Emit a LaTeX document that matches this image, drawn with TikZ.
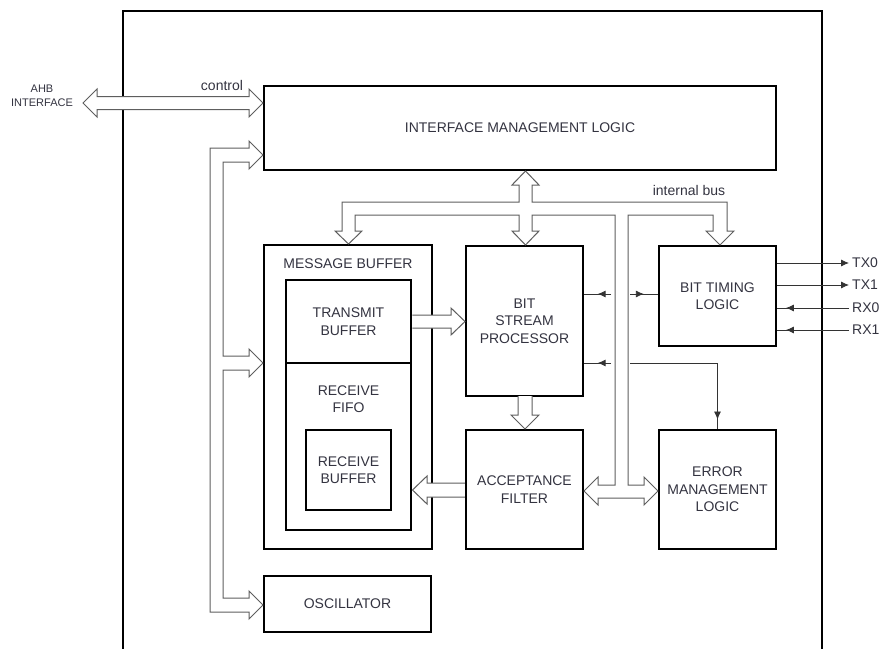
\documentclass[tikz,border=0pt]{standalone}
\usepackage{fontspec}
\setmainfont{Liberation Sans}
\usetikzlibrary{positioning,calc,arrows.meta,decorations.markings}
\definecolor{txtc}{HTML}{333340}
\definecolor{busc}{HTML}{5E5E5E}

\tikzset{
  blk/.style={draw, line width=2.5pt, text=txtc, align=center,
    font=\fontsize{14}{17.5}\selectfont, inner sep=0pt},
  lbl/.style={text=txtc, align=center, font=\fontsize{14}{17.5}\selectfont, inner sep=0pt},
  bus/.style={draw=busc, fill=white, line width=1pt, line join=miter},
  sig/.style={draw=black!80, line width=0.8pt},
  midarr/.style={postaction={decorate}, decoration={markings,
    mark=at position #1 with {\arrow{Latex[length=8pt,width=7pt]}}}},
  midarr/.default=0.5
}

\begin{document}
\begin{tikzpicture}[x=1pt, y=-1pt]
  \useasboundingbox (0,0) rectangle (880,648);
  % outer frame, open at the bottom
  \draw[line width=2.5pt] (123,660) -- (123,11) -- (822,11) -- (822,660);

  % blocks
  \node[blk, minimum width=512, minimum height=84] (iml) at (520,128) {INTERFACE MANAGEMENT LOGIC};
  \node[blk, minimum width=168, minimum height=304] (mb) at (348,397) {};
  \node[lbl] (mbtitle) at (348,264) {MESSAGE BUFFER};
  \node[blk, minimum width=125, minimum height=83] (tb) at (348.5,321.5) {TRANSMIT\\BUFFER};
  \node[blk, minimum width=125, minimum height=167] (rf) at (348.5,446.5) {};
  \node[lbl] (rftitle) at (348.5,399) {RECEIVE\\FIFO};
  \node[blk, minimum width=85, minimum height=80] (rb) at (348.5,470) {RECEIVE\\BUFFER};
  \node[blk, minimum width=117, minimum height=150] (bsp) at (524.5,321) {BIT\\STREAM\\PROCESSOR};
  \node[blk, minimum width=117, minimum height=119] (af) at (524.5,489.5) {ACCEPTANCE\\FILTER};
  \node[blk, minimum width=117, minimum height=100] (btl) at (717.5,296) {BIT TIMING\\LOGIC};
  \node[blk, minimum width=117, minimum height=119] (eml) at (717.5,489.5) {ERROR\\MANAGEMENT\\LOGIC};
  \node[blk, minimum width=167, minimum height=56] (osc) at (347.5,604) {OSCILLATOR};

  % AHB control bus
  \draw[bus] (83,103) -- (97,89) -- (97,96.5) -- (249,96.5) -- (249,89) -- (263,103)
    -- (249,117) -- (249,109.5) -- (97,109.5) -- (97,117) -- cycle;
  % left bus to IML, message buffer and oscillator
  \draw[bus] (263,155) -- (249,141) -- (249,148) -- (210,148) -- (210,612) -- (249,612)
    -- (249,619) -- (263,605) -- (249,591) -- (249,598) -- (223,598) -- (223,370)
    -- (249,370) -- (249,377) -- (263,363) -- (249,349) -- (249,356) -- (223,356)
    -- (223,162) -- (249,162) -- (249,169) -- cycle;
  % internal bus
  \draw[bus] (525.5,171) -- (539,185) -- (532,185) -- (532,202) -- (727,202) -- (727,231)
    -- (734,231) -- (720,245) -- (706,231) -- (713,231) -- (713,215) -- (628,215)
    -- (628,485) -- (644,485) -- (644,477) -- (658,491) -- (644,505) -- (644,498)
    -- (598,498) -- (598,505) -- (584,491) -- (598,477) -- (598,485) -- (615,485)
    -- (615,215) -- (532,215) -- (532,231) -- (539,231) -- (525.5,245) -- (512,231)
    -- (519,231) -- (519,215) -- (355,215) -- (355,231) -- (362,231) -- (348.5,244)
    -- (335,231) -- (342,231) -- (342,202) -- (519,202) -- (519,185) -- (512,185) -- cycle;
  \node[lbl] (ibus) at (689,190) {internal bus};

  % data paths between blocks
  \draw[bus] (tb.east |- 0,315) -- (451,315) -- (451,308) -- (465,321.5) -- (451,335)
    -- (451,328) -- (tb.east |- 0,328);
  \draw[bus] (518,396) -- (518,415) -- (511,415) -- (525,429) -- (539,415) -- (532,415)
    -- (532,396);
  \draw[bus] (af.west |- 0,483) -- (427,483) -- (427,476) -- (412.5,490) -- (427,504)
    -- (427,497) -- (af.west |- 0,497);

  % bus taps
  \coordinate (tapa) at (611,294);
  \coordinate (tapb) at (630,294);
  \coordinate (tapc) at (611,363);
  \coordinate (tapd) at (630,363);
  \draw[sig, midarr] (tapa) -- (bsp.east |- tapa);
  \draw[sig, midarr] (tapb) -- (btl.west |- tapb);
  \draw[sig, midarr] (tapc) -- (bsp.east |- tapc);
  \draw[sig, midarr=0.94] (tapd) -| (eml.north);

  % CAN pins
  \node[lbl, anchor=west] (tx0) at (852,263) {TX0};
  \node[lbl, anchor=west] (tx1) at (852,285) {TX1};
  \node[lbl, anchor=west] (rx0) at (852,308) {RX0};
  \node[lbl, anchor=west] (rx1) at (852,330) {RX1};
  \draw[sig, -{Latex[length=8pt,width=7pt]}, shorten >=3pt] (btl.east |- tx0) -- (tx0.west);
  \draw[sig, -{Latex[length=8pt,width=7pt]}, shorten >=3pt] (btl.east |- tx1) -- (tx1.west);
  \draw[sig, midarr=0.88] ([xshift=-3pt]rx0.west) -- (btl.east |- rx0);
  \draw[sig, midarr=0.88] ([xshift=-3pt]rx1.west) -- (btl.east |- rx1);

  % labels
  \node[lbl] (ctrl) at (222,85) {control};
  \node[lbl, font=\fontsize{11}{14}\selectfont] (ahb) at (42,96) {AHB\\INTERFACE};
\end{tikzpicture}
\end{document}
